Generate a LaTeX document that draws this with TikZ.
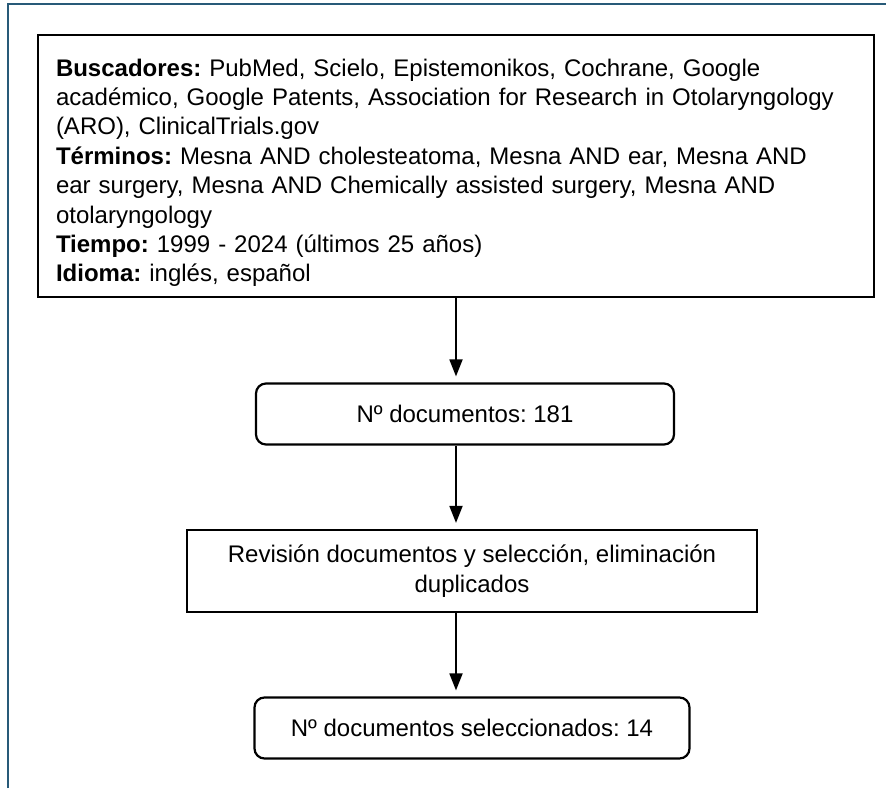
\documentclass[tikz,border=0pt]{standalone}
\usepackage{fontspec}
\setmainfont{Liberation Sans}
\usetikzlibrary{positioning, arrows.meta, calc}
\frenchspacing

\begin{document}
\begin{tikzpicture}[
		x=1pt, y=-1pt,
		>={Triangle[length=17pt,width=13pt]},
		font=\fontsize{24}{29.4}\selectfont,
		% Box Styles
		box_info/.style={rectangle, draw=black, line width=2.2pt, minimum width=836pt, minimum height=262pt, text width=800pt, inner sep=0pt, align=left},
		box_round/.style={rectangle, rounded corners=10pt, draw=black, line width=2.2pt, minimum height=61pt, align=center},
		box_plain/.style={rectangle, draw=black, line width=2.2pt, minimum width=570pt, minimum height=82pt, align=center},
		% Edge Styles
		flow_edge/.style={->, draw=black, line width=1.8pt, shorten >=6pt},
		frame_line/.style={draw={rgb,255:red,40;green,90;blue,120}, line width=1.6pt}
		]
		
		\useasboundingbox (0,0) rectangle (886,788);
		\draw[frame_line] (8,788) -- (8,4) -- (886,4);
		
		% --- 1. SEARCH CRITERIA ---
		% (strut on first line pushes the block a little down)
		\node[box_info] (Search) at (456,166) {
			\rule{0pt}{31pt}\textbf{Buscadores:} PubMed, Scielo, Epistemonikos, Cochrane, Google\\
			académico, Google Patents, Association for Research in Otolaryngology\\
			(ARO), ClinicalTrials.gov\\
			\textbf{Términos:} Mesna AND cholesteatoma, Mesna AND ear, Mesna AND\\
			ear surgery, Mesna AND Chemically assisted surgery, Mesna AND\\
			otolaryngology\\
			\textbf{Tiempo:} 1999 - 2024 (últimos 25 años)\\
			\textbf{Idioma:} inglés, español};
		
		% --- 2. SCREENING ---
		\node[box_round, minimum width=418pt] (Found) at (465,414) {Nº documentos: 181};
		\node[box_plain] (Review) at (472,571) {Revisión documentos y selección, eliminación\\ duplicados};
		\node[box_round, minimum width=435pt] (Selected) at (472,728) {Nº documentos seleccionados: 14};
		
		% Arrow axis
		\coordinate (axis) at (456,0);
		
		% ================= TRANSITIONS =================
		\draw[flow_edge] (Search.south -| axis) -- (Found.north -| axis);
		\draw[flow_edge] (Found.south -| axis) -- (Review.north -| axis);
		\draw[flow_edge] (Review.south -| axis) -- (Selected.north -| axis);
		
	\end{tikzpicture}
\end{document}
